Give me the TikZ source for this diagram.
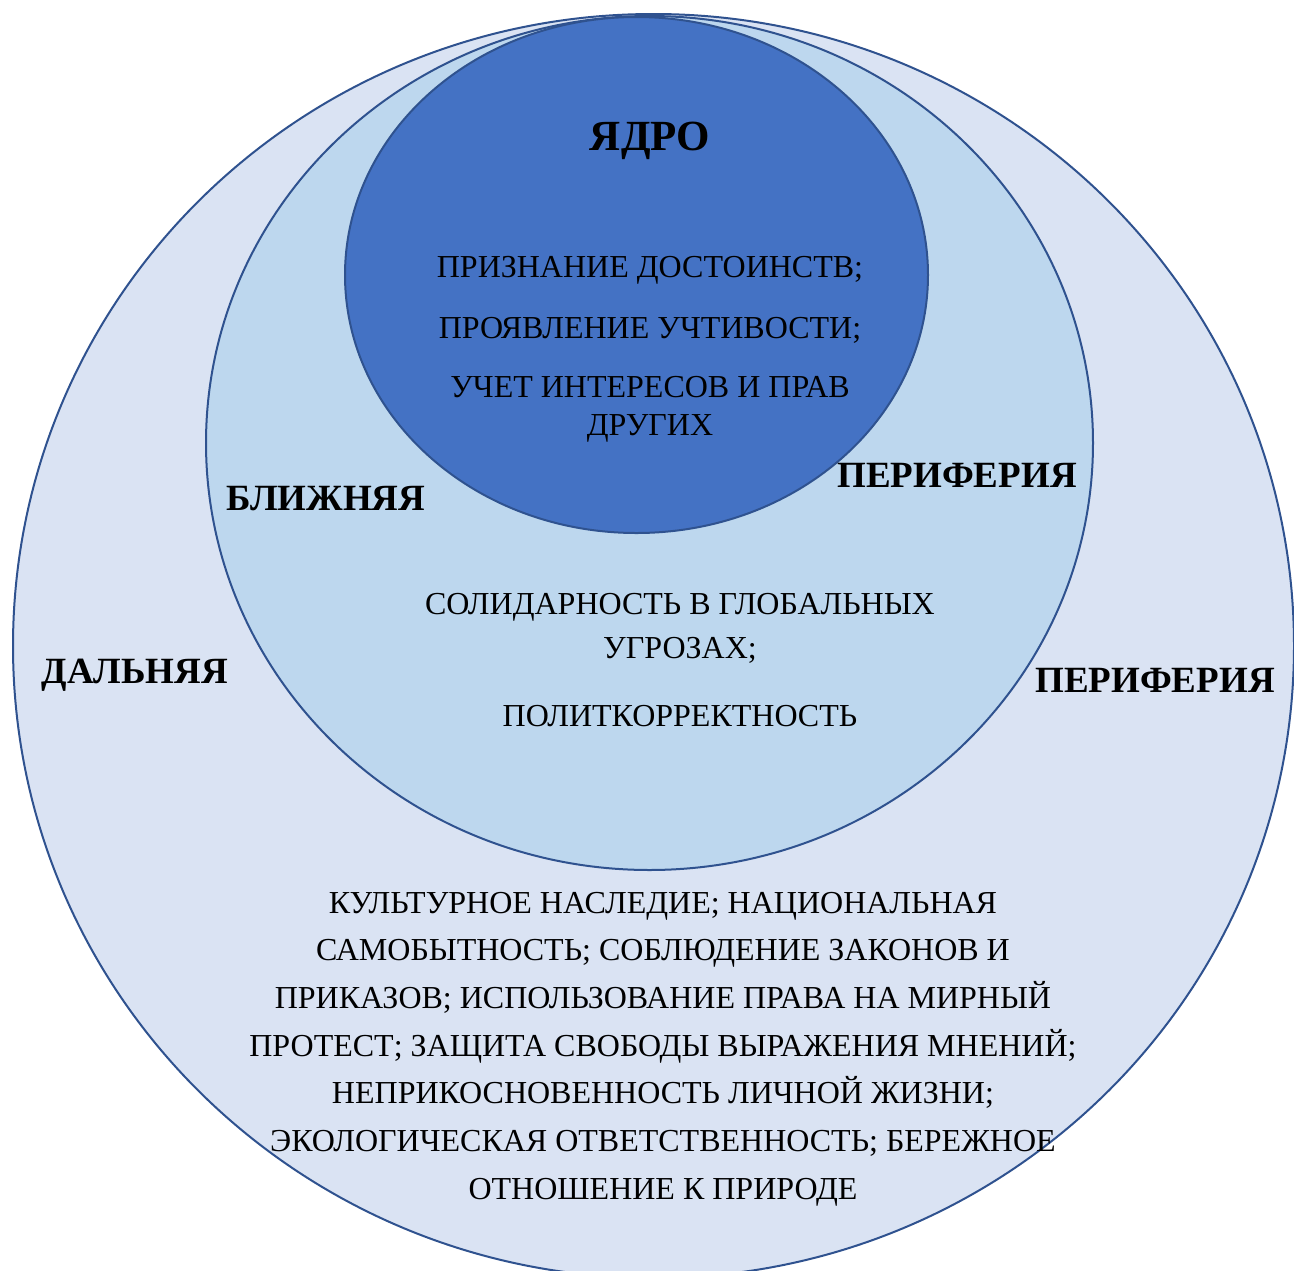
\documentclass[tikz,border=0pt]{standalone}
\usepackage{fontspec}
\setmainfont{Liberation Serif}
\usetikzlibrary{shapes.geometric}
\definecolor{farfill}{HTML}{DAE3F3}
\definecolor{nearfill}{HTML}{BDD7EE}
\definecolor{corefill}{HTML}{4472C4}
\definecolor{rim}{HTML}{2F528F}

\begin{document}
\begin{tikzpicture}[x=1pt, y=-1pt,
 zone/.style={ellipse, draw=rim, line width=2pt, inner sep=0pt},
 item/.style={font=\fontsize{32}{38}\selectfont, align=center, inner sep=0pt},
 label/.style={font=\fontsize{37}{40}\selectfont\bfseries, inner sep=0pt}]
 \useasboundingbox (0,0) rectangle (1294,1270);
 \clip (0,0) rectangle (1294,1270);
 \node[zone, fill=farfill, minimum width=1281pt, minimum height=1264pt]
 (far) at (653.5,646) {};
 \node[zone, fill=nearfill, minimum width=887pt, minimum height=854pt]
 (near) at (649.5,443) {};
 \node[zone, fill=corefill, minimum width=583pt, minimum height=516pt]
 (core) at (636.5,275) {};
 \node[label, font=\fontsize{43}{46}\selectfont\bfseries] (coretitle) at (650,141) {ЯДРО};
 \node[item] (dignity) at (650,270) {ПРИЗНАНИЕ ДОСТОИНСТВ;};
 \node[item] (courtesy) at (650,330) {ПРОЯВЛЕНИЕ УЧТИВОСТИ;};
 \node[item] (rights) at (650,409) {УЧЕТ ИНТЕРЕСОВ И ПРАВ\\ДРУГИХ};
 \node[label] (nearleft) at (326,499) {БЛИЖНЯЯ};
 \node[label] (nearright) at (957,475) {ПЕРИФЕРИЯ};
 \node[item, font=\fontsize{32}{44}\selectfont] (solidarity) at (680,628) {СОЛИДАРНОСТЬ В ГЛОБАЛЬНЫХ\\УГРОЗАХ;};
 \node[item] (correctness) at (680,716) {ПОЛИТКОРРЕКТНОСТЬ};
 \node[label] (farleft) at (135,675) {ДАЛЬНЯЯ};
 \node[label] (farright) at (1155,680) {ПЕРИФЕРИЯ};
 \node[item, font=\fontsize{32}{47.7}\selectfont] (heritage) at (663,1049)
 {КУЛЬТУРНОЕ НАСЛЕДИЕ; НАЦИОНАЛЬНАЯ\\
 САМОБЫТНОСТЬ; СОБЛЮДЕНИЕ ЗАКОНОВ И\\
 ПРИКАЗОВ; ИСПОЛЬЗОВАНИЕ ПРАВА НА МИРНЫЙ\\
 ПРОТЕСТ; ЗАЩИТА СВОБОДЫ ВЫРАЖЕНИЯ МНЕНИЙ;\\
 НЕПРИКОСНОВЕННОСТЬ ЛИЧНОЙ ЖИЗНИ;\\
 ЭКОЛОГИЧЕСКАЯ ОТВЕТСТВЕННОСТЬ; БЕРЕЖНОЕ\\
 ОТНОШЕНИЕ К ПРИРОДЕ};
\end{tikzpicture}
\end{document}
